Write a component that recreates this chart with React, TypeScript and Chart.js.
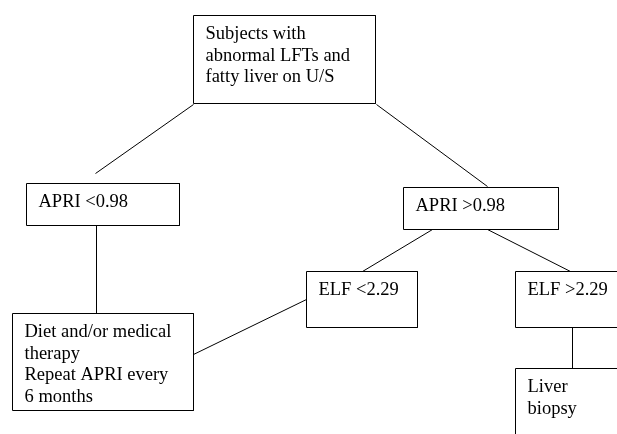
import React, { useEffect, useRef } from "react";
import { Chart, registerables } from "chart.js";

Chart.register(...registerables);

// Flowchart nodes (diagram coordinate units)
const nodeLabels: string[][] = [
  ["Subjects with", "abnormal LFTs and", "fatty liver on U/S"],
  ["APRI <0.98"],
  ["APRI >0.98"],
  ["ELF <2.29"],
  ["ELF >2.29"],
  ["Diet and/or medical", "therapy", "Repeat APRI every", "6 months"],
  ["Liver", "biopsy"],
];
const nodeLeft = [193, 26, 403, 306, 515, 12, 515];
const nodeTop = [15, 183, 187, 271, 271, 313, 368];
const nodeRight = [375, 179, 558, 417, 660, 193, 660];
const nodeBottom = [103, 225, 229, 327, 327, 410, 470];

// Connector lines
const edgeX1 = [193, 376, 96, 432, 487, 193, 572];
const edgeY1 = [104, 104, 225, 229, 229, 354, 327];
const edgeX2 = [95, 487, 96, 362, 570, 306, 572];
const edgeY2 = [173, 186, 313, 271, 271, 299, 368];

const W = 617;
const H = 434;

export default function App() {
  const ref = useRef<HTMLCanvasElement | null>(null);
  useEffect(() => {
    document.body.style.margin = "0";
    const canvas = ref.current;
    if (!canvas) return;

    const datasets: any[] = [];
    nodeLabels.forEach((_, i) => {
      datasets.push({
        data: [
          { x: nodeLeft[i], y: nodeTop[i] },
          { x: nodeRight[i], y: nodeTop[i] },
          { x: nodeRight[i], y: nodeBottom[i] },
          { x: nodeLeft[i], y: nodeBottom[i] },
          { x: nodeLeft[i], y: nodeTop[i] },
        ],
        showLine: true,
        borderColor: "#000",
        borderWidth: 1,
        pointRadius: 0,
        fill: false,
        clip: false,
      });
    });
    edgeX1.forEach((_, i) => {
      datasets.push({
        data: [
          { x: edgeX1[i], y: edgeY1[i] },
          { x: edgeX2[i], y: edgeY2[i] },
        ],
        showLine: true,
        borderColor: "#000",
        borderWidth: 1,
        pointRadius: 0,
        fill: false,
        clip: false,
      });
    });

    const textPlugin = {
      id: "nodeText",
      afterDatasetsDraw(chart: any) {
        const ctx = chart.ctx;
        const xs = chart.scales.x;
        const ys = chart.scales.y;
        ctx.save();
        ctx.fillStyle = "#000";
        ctx.font = '18.5px "Liberation Serif", "Times New Roman", serif';
        ctx.textBaseline = "middle";
        ctx.textAlign = "left";
        nodeLabels.forEach((lines, i) => {
          const x = xs.getPixelForValue(nodeLeft[i]) + 12;
          const y0 = ys.getPixelForValue(nodeTop[i]) + 19;
          lines.forEach((t, j) => ctx.fillText(t, x, y0 + j * 21.5));
        });
        ctx.restore();
      },
    };

    const chart = new Chart(canvas, {
      type: "scatter",
      data: { datasets },
      options: {
        responsive: false,
        animation: false,
        events: [],
        layout: { padding: 0 },
        plugins: { legend: { display: false }, tooltip: { enabled: false } },
        scales: {
          x: { type: "linear", min: -0.5, max: W - 0.5, display: false },
          y: { type: "linear", min: -0.5, max: H - 0.5, reverse: true, display: false },
        },
      },
      plugins: [textPlugin],
    });
    return () => chart.destroy();
  }, []);

  return (
    <div style={{ width: W, height: H, background: "#fff" }}>
      <canvas ref={ref} width={W} height={H} style={{ display: "block" }} />
    </div>
  );
}
